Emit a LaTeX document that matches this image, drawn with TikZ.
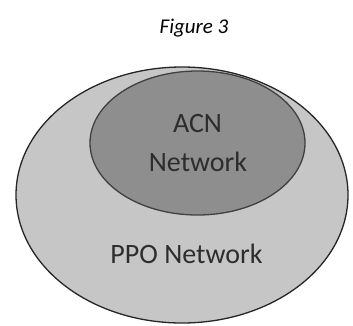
\documentclass[tikz,border=0pt]{standalone}
\usepackage{fontspec}
\setmainfont{Carlito}
\definecolor{ppogray}{RGB}{198,198,198}
\definecolor{acngray}{RGB}{142,142,142}
\definecolor{textgray}{RGB}{45,45,45}
\begin{document}
\begin{tikzpicture}[x=1pt, y=-1pt,
  region/.style={draw=black!85, line width=1.3pt},
  label/.style={inner sep=0pt, anchor=base, text=textgray, font=\fontsize{28}{30}\selectfont}]
\useasboundingbox (0,0) rectangle (353,325);
\node[inner sep=0pt, anchor=base, font=\fontsize{21}{24}\selectfont\itshape] at (194, 33) (title) {Figure 3};
\filldraw[region, fill=ppogray] (182, 195) ellipse [x radius=166, y radius=128];
\filldraw[region, fill=acngray, draw=black!75] (197.5, 143) ellipse [x radius=107.5, y radius=72];
\node[label] at (197.5, 132) (acn) {ACN};
\node[label] at (198, 171) (acnnet) {Network};
\node[label] at (186.5, 263) (ppo) {PPO Network};
\end{tikzpicture}
\end{document}
